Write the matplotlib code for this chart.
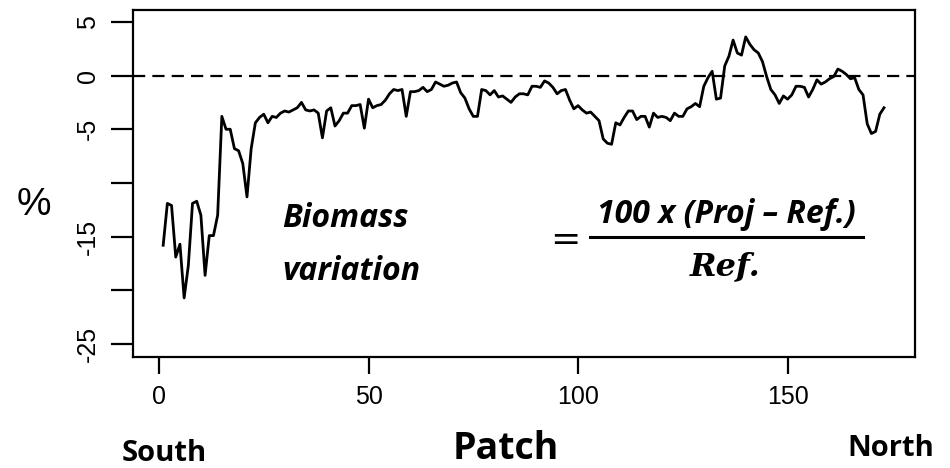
import numpy as np
import matplotlib
matplotlib.use('Agg')
import matplotlib.pyplot as plt
from matplotlib.lines import Line2D

# Patch index along the coast, south to north
patch = np.arange(1, 174)

# Projected biomass change per patch (%)
biomass_change = [
    -15.8, -11.9, -12.1, -16.9, -15.7, -20.7, -17.7, -11.9, -11.7, -13.0,
    -18.6, -14.9, -14.9, -13.0, -3.8, -5.0, -5.0, -6.8, -7.0, -8.2,
    -11.3, -6.8, -4.4, -3.9, -3.6, -4.4, -3.8, -3.9, -3.5, -3.3,
    -3.4, -3.2, -3.0, -2.5, -3.2, -3.3, -3.2, -3.5, -5.8, -3.3,
    -3.0, -4.7, -4.2, -3.5, -3.5, -2.8, -2.8, -2.7, -4.9, -2.2,
    -3.0, -2.8, -2.7, -2.3, -1.7, -1.3, -1.4, -1.3, -3.8, -1.5,
    -1.5, -1.4, -1.1, -1.5, -1.3, -0.6, -0.8, -1.0, -0.9, -0.7,
    -0.6, -1.6, -2.1, -3.1, -3.8, -3.8, -1.3, -1.4, -1.8, -1.4,
    -2.0, -1.9, -2.2, -2.5, -2.0, -1.7, -1.7, -1.8, -1.0, -1.0,
    -1.1, -0.5, -0.7, -1.1, -1.7, -1.4, -1.3, -2.3, -3.1, -2.8,
    -3.2, -3.5, -3.4, -3.8, -4.2, -5.9, -6.3, -6.4, -4.4, -4.6,
    -3.9, -3.3, -3.3, -4.1, -3.8, -3.8, -4.8, -3.5, -3.9, -3.8,
    -3.9, -4.2, -3.5, -3.8, -3.8, -3.1, -2.9, -2.6, -2.9, -1.0,
    -0.2, 0.4, -2.2, -2.1, 0.9, 1.8, 3.3, 2.1, 1.9, 3.6,
    2.9, 2.4, 2.1, 1.3, -0.1, -1.3, -1.8, -2.6, -1.9, -2.2,
    -1.8, -1.0, -1.0, -1.1, -2.0, -1.3, -0.4, -0.8, -0.6, -0.3,
    -0.1, 0.6, 0.4, 0.1, -0.3, -0.2, -1.3, -1.8, -4.5, -5.4,
    -5.2, -3.6, -3.0,
]

x_ticks = [0, 50, 100, 150]
y_ticks = [5, 0, -5, -10, -15, -20, -25]
y_tick_labels = ['5', '0', '-5', '', '-15', '', '-25']

W, H = 950, 468
label_font = 'Open Sans'


def fx(px):
    return px / W


def fy(py):
    return 1 - py / H


fig = plt.figure(figsize=(W / 100, H / 100), dpi=100)
ax = fig.add_axes([133 / W, 1 - 357 / H, 782 / W, 347 / H])

ax.plot(patch, biomass_change, color='black', lw=2.0)
ax.axhline(0, color='black', lw=1.6, dashes=(5.5, 3.2))

ax.set_xlim(-6.2, 180.4)
ax.set_ylim(-26.2, 6.1)

ax.set_xticks(x_ticks)
ax.set_xticklabels([str(t) for t in x_ticks], fontfamily='Liberation Sans', fontsize=18)
ax.set_yticks(y_ticks)
ax.set_yticklabels(y_tick_labels, fontfamily='Liberation Sans', fontsize=18,
                   rotation=90, va='center')

ax.tick_params(axis='x', length=12, width=1.6, pad=8)
ax.tick_params(axis='y', length=16, width=1.6, pad=8)
for s in ax.spines.values():
    s.set_linewidth(1.6)

# axis labels
fig.text(fx(34), fy(205), '%', fontfamily='Liberation Sans', fontsize=28,
         ha='center', va='center')
fig.text(fx(122), fy(461), 'South', fontfamily=label_font, fontweight='bold',
         fontsize=21, ha='left', va='baseline')
fig.text(fx(506), fy(459), 'Patch', fontfamily=label_font, fontweight='bold',
         fontsize=27, ha='center', va='baseline')
fig.text(fx(891), fy(456), 'North', fontfamily=label_font, fontweight='bold',
         fontsize=21, ha='center', va='baseline')

# formula annotation
fig.text(fx(282), fy(227), 'Biomass', fontfamily=label_font, fontweight='bold',
         style='italic', fontsize=23, ha='left', va='baseline')
fig.text(fx(282), fy(280), 'variation', fontfamily=label_font, fontweight='bold',
         style='italic', fontsize=23, ha='left', va='baseline')
fig.text(fx(565), fy(240), '=', fontfamily='DejaVu Sans', fontsize=26,
         ha='center', va='center')
fig.text(fx(726), fy(223), '100 x (Proj \u2013 Ref.)', fontfamily=label_font,
         fontweight='bold', style='italic', fontsize=23, ha='center', va='baseline')
fig.add_artist(Line2D([fx(590), fx(863)], [fy(237), fy(237)], color='black',
                      lw=2.2, transform=fig.transFigure))
fig.text(fx(725), fy(275), 'Ref.', fontfamily='DejaVu Serif', fontweight='bold',
         style='italic', fontsize=23, ha='center', va='baseline')

fig.savefig('out.png', dpi=100)
